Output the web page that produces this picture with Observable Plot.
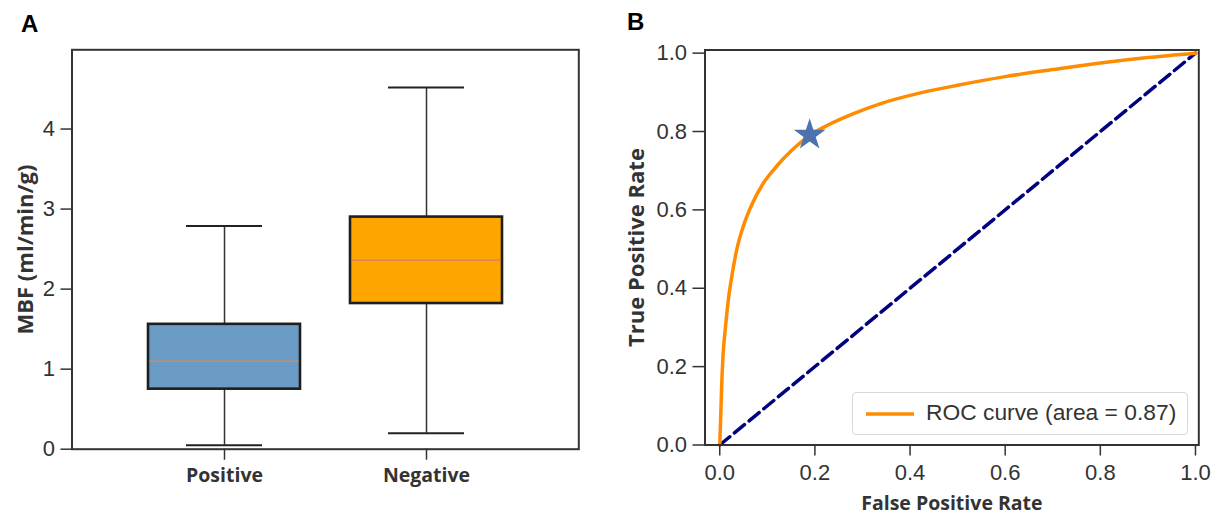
<!DOCTYPE html>
<html>
<head>
<meta charset="utf-8">
<script src="https://cdn.jsdelivr.net/npm/d3@7"></script>
<script src="https://cdn.jsdelivr.net/npm/@observablehq/plot@0.6"></script>
<style>
  html, body { margin: 0; padding: 0; background: #fff; }
  #wrap { position: relative; width: 1215px; height: 515px; overflow: hidden; font-family: "Liberation Sans", Arial, sans-serif; }
  #wrap .panel { position: absolute; top: 0; }
  .letter { position: absolute; font-family: "Liberation Sans", Arial, sans-serif; font-weight: bold; font-size: 24px; color: #000; line-height: 1; }
  svg [aria-label="y-axis label"] { font-family: "Open Sans", sans-serif; font-weight: 700; font-size: 22px; fill: #333; }
  svg [aria-label="x-axis label"] { font-family: "Open Sans", sans-serif; font-weight: 700; font-size: 19.5px; fill: #333; }
  .catx [aria-label="x-axis tick label"] text { font-family: "Open Sans", sans-serif; font-weight: 700; font-size: 19.5px; }
  #legend { position: absolute; left: 852px; top: 392px; width: 336px; height: 43px; border: 1.2px solid #d8d8d8; border-radius: 4px; background: rgba(255,255,255,0.85); box-sizing: border-box; }
  #legend svg { position: absolute; left: 12px; top: 18px; }
  #legend span { position: absolute; left: 73px; top: 6px; font-family: "Liberation Sans", Arial, sans-serif; font-size: 22.8px; line-height: 1.2; color: #333; white-space: nowrap; }
</style>
</head>
<body>
<div id="wrap"></div>
<script>
// ---- Panel A data (box plot of MBF) ----
const categories = ["Positive", "Negative"];
const whiskerLow = [0.05, 0.20];
const q1 = [0.75, 1.82];
const median = [1.10, 2.36];
const q3 = [1.56, 2.90];
const whiskerHigh = [2.79, 4.52];
const boxColors = ["#6a9bc4", "#ffa500"];
const mbfTicks = [0, 1, 2, 3, 4];

// ---- Panel B data (ROC curve) ----
const fpr = [0, 0.002, 0.004, 0.007, 0.012, 0.018, 0.026, 0.036, 0.05, 0.068, 0.09, 0.12, 0.15, 0.189, 0.23, 0.28, 0.34, 0.42, 0.5, 0.6, 0.7, 0.8, 0.9, 1.0];
const tpr = [0, 0.07, 0.15, 0.23, 0.30, 0.37, 0.435, 0.50, 0.56, 0.615, 0.665, 0.712, 0.75, 0.79, 0.818, 0.845, 0.872, 0.898, 0.918, 0.94, 0.958, 0.975, 0.989, 1.0];
const chanceX = [0, 1];
const chanceY = [0, 1];
const bestFpr = [0.189];
const bestTpr = [0.791];
const rateTicks = [0, 0.2, 0.4, 0.6, 0.8, 1.0];
const legendLabel = "ROC curve (area = 0.87)";

const boxes = categories.map((c, i) => ({
  cat: c, lo: whiskerLow[i], q1: q1[i], med: median[i], q3: q3[i], hi: whiskerHigh[i], color: boxColors[i]
}));
const roc = fpr.map((x, i) => ({x, y: tpr[i]}));
const chance = chanceX.map((x, i) => ({x, y: chanceY[i]}));
const best = bestFpr.map((x, i) => ({x, y: bestTpr[i]}));

const ink = "#333";
const wrap = document.getElementById("wrap");

// Panel A
const plotA = Plot.plot({
  width: 600, height: 515,
  marginLeft: 71.5, marginRight: 21.7, marginTop: 49.3, marginBottom: 66.3,
  style: {fontFamily: "Liberation Sans, Arial, sans-serif", fontSize: "22px", color: ink, background: "transparent", overflow: "visible"},
  x: {type: "band", domain: categories, paddingInner: 0.25, paddingOuter: 0.375},
  y: {domain: [0, 4.99]},
  marks: [
    Plot.ruleX(boxes, {x: "cat", y1: "lo", y2: "q1", stroke: ink, strokeWidth: 1.5}),
    Plot.ruleX(boxes, {x: "cat", y1: "q3", y2: "hi", stroke: ink, strokeWidth: 1.5}),
    Plot.tickY(boxes, {x: "cat", y: "lo", stroke: "#222", strokeWidth: 2, insetLeft: 38, insetRight: 38}),
    Plot.tickY(boxes, {x: "cat", y: "hi", stroke: "#222", strokeWidth: 2, insetLeft: 38, insetRight: 38}),
    Plot.barY(boxes, {x: "cat", y1: "q1", y2: "q3", fill: "color", stroke: "#1e1e1e", strokeWidth: 2.6}),
    Plot.tickY(boxes, {x: "cat", y: "med", stroke: "#dd8452", strokeWidth: 1.5, insetLeft: 1.5, insetRight: 1.5}),
    Plot.frame({stroke: ink, strokeWidth: 2}),
    Plot.axisY({ticks: mbfTicks, tickFormat: d => String(d), tickSize: 11, tickPadding: 6, strokeWidth: 1.5, stroke: ink,
      label: "MBF (ml/min/g)", labelAnchor: "center", labelArrow: "none", labelOffset: 55}),
    Plot.axisX({tickSize: 11, tickPadding: 8, strokeWidth: 1.5, stroke: ink, label: null})
  ]
});
plotA.classList.add("panel", "catx");
plotA.style.left = "0px";
wrap.appendChild(plotA);

// Panel B
const plotB = Plot.plot({
  width: 615, height: 515,
  marginLeft: 104.5, marginRight: 16.7, marginTop: 49.5, marginBottom: 70.5,
  style: {fontFamily: "Liberation Sans, Arial, sans-serif", fontSize: "22px", color: ink, background: "transparent", overflow: "visible"},
  x: {domain: [-0.031, 1.007]},
  y: {domain: [0, 1.008]},
  marks: [
    Plot.line(chance, {x: "x", y: "y", stroke: "#000080", strokeWidth: 3.5, strokeDasharray: "13,6"}),
    Plot.line(roc, {x: "x", y: "y", stroke: "#ff8c00", strokeWidth: 3.5, curve: "monotone-x"}),
    Plot.dot(best, {x: "x", y: "y", symbol: "star", r: 10, fill: "#4c72b0", stroke: "none"}),
    Plot.frame({stroke: ink, strokeWidth: 2}),
    Plot.axisY({ticks: rateTicks, tickFormat: ".1f", tickSize: 12, tickPadding: 6, strokeWidth: 1.5, stroke: ink,
      label: "True Positive Rate", labelAnchor: "center", labelArrow: "none", labelOffset: 77}),
    Plot.axisX({ticks: rateTicks, tickFormat: ".1f", tickSize: 11, tickPadding: 8, strokeWidth: 1.5, stroke: ink,
      label: "False Positive Rate", labelAnchor: "center", labelArrow: "none", labelOffset: 65})
  ]
});
plotB.classList.add("panel");
plotB.style.left = "600px";
wrap.appendChild(plotB);

// Panel letters
const la = document.createElement("div");
la.className = "letter"; la.textContent = "A"; la.style.left = "21px"; la.style.top = "12px";
wrap.appendChild(la);
const lb = document.createElement("div");
lb.className = "letter"; lb.textContent = "B"; lb.style.left = "627px"; lb.style.top = "10px";
wrap.appendChild(lb);

// Legend
const leg = document.createElement("div");
leg.id = "legend";
leg.innerHTML = `<svg width="50" height="6"><line x1="1" y1="3" x2="49" y2="3" stroke="#ff8c00" stroke-width="3.5"/></svg><span></span>`;
leg.querySelector("span").textContent = legendLabel;
wrap.appendChild(leg);
</script>
</body>
</html>
